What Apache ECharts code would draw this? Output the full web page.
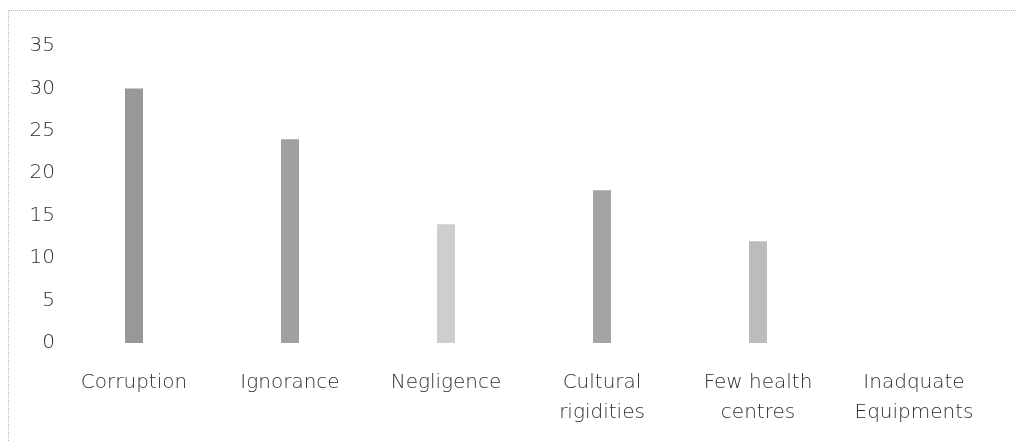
<!DOCTYPE html>
<html lang="en">
<head>
    <meta charset="UTF-8">
    <title>Bar chart</title>
    <script src="https://cdn.jsdelivr.net/npm/echarts@6/dist/echarts.min.js"></script>
    <style>
        body { margin: 0; background: #fff; }
        #frame { position: absolute; left: 8px; top: 10px; width: 1009px; height: 432px;
                 border-left: 1px dotted #b5b5b5; border-top: 1px dotted #b5b5b5; }
    </style>
</head>
<body>
    <div id="frame"></div>
    <div id="main" style="position:absolute;left:0;top:0;width:1017px;height:442px;"></div>
<script>
    // data
    var categories = ['Corruption', 'Ignorance', 'Negligence', 'Cultural\nrigidities', 'Few health\ncentres', 'Inadquate\nEquipments'];
    var values = [30, 24, 14, 18, 12, 0];
    var barShades = ['#989898', '#a0a0a0', '#cecece', '#a4a4a4', '#bcbcbc', '#a4a4a4'];

    var myChart = echarts.init(document.getElementById('main'));

    var font = { fontFamily: 'DejaVu Sans', fontWeight: 200, color: '#2e2e2e' };

    var option = {
        animation: false,
        grid: { left: 56, right: 25, top: 46, bottom: 99 },
        xAxis: {
            type: 'category',
            data: categories,
            axisLine: { show: false },
            axisTick: { show: false },
            axisLabel: Object.assign({ fontSize: 20, lineHeight: 30, margin: 25, interval: 0 }, font)
        },
        yAxis: {
            type: 'value',
            min: 0,
            max: 35,
            interval: 5,
            splitLine: { show: false },
            axisLine: { show: false },
            axisTick: { show: false },
            axisLabel: Object.assign({ fontSize: 20, margin: 1 }, font)
        },
        series: [{
            type: 'bar',
            barWidth: 18,
            data: values.map(function (v, i) {
                return { value: v, itemStyle: { color: barShades[i] } };
            })
        }]
    };

    myChart.setOption(option);
</script>
</body>
</html>
